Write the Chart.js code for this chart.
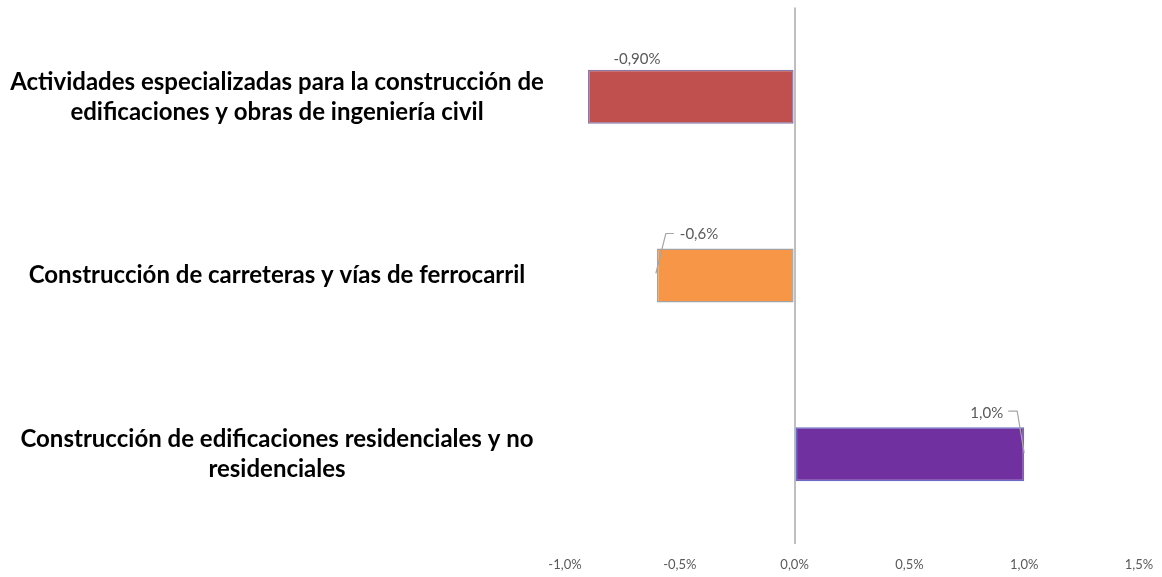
<!DOCTYPE html>
<html lang="es">
<head>
    <meta charset="UTF-8">
    <title>Variación por subsector</title>
    <script src="https://cdn.jsdelivr.net/npm/chart.js"></script>
    <style>
        html, body { margin: 0; padding: 0; background: #fff; }
        #wrap { width: 1162px; height: 577px; }
    </style>
</head>
<body>
    <div id="wrap"><canvas id="myChart"></canvas></div>

    <script>
        // categories, top to bottom
        const categories = [
            ['Actividades especializadas para la construcción de', 'edificaciones y obras de ingeniería civil'],
            'Construcción de carreteras y vías de ferrocarril',
            ['Construcción de edificaciones residenciales y no', 'residenciales']
        ];
        const values = [-0.9, -0.6, 1.0];          // percent
        const valueLabels = ['-0,90%', '-0,6%', '1,0%'];
        const barColors = ['#C0504D', '#F79646', '#7030A0'];
        const barBorders = ['#8a78a6', '#a3a3a3', '#6a6ac4'];
        const xTicks = [-1.0, -0.5, 0.0, 0.5, 1.0, 1.5];

        const fmtPct = v => v.toFixed(1).replace('.', ',') + '%';

        // value labels with small leader lines, positioned from the bar elements
        const valueLabelPlugin = {
            id: 'valueLabels',
            afterDatasetsDraw(chart) {
                const ctx = chart.ctx;
                const bars = chart.getDatasetMeta(0).data;
                ctx.save();
                ctx.font = '15px Lato';
                ctx.fillStyle = '#595959';
                ctx.strokeStyle = '#a6a6a6';
                ctx.lineWidth = 1.2;
                ctx.textBaseline = 'middle';
                bars.forEach((bar, i) => {
                    const top = bar.y - bar.height / 2;
                    if (i === 0) {
                        ctx.textAlign = 'center';
                        ctx.fillText(valueLabels[i], bar.x + 49, top - 11);
                    } else if (i === 1) {
                        ctx.textAlign = 'left';
                        ctx.fillText(valueLabels[i], bar.x + 23, top - 14);
                        ctx.beginPath();
                        ctx.moveTo(bar.x + 17, top - 15);
                        ctx.lineTo(bar.x + 9, top - 15);
                        ctx.lineTo(bar.x - 1, bar.y - 2);
                        ctx.stroke();
                    } else {
                        ctx.textAlign = 'right';
                        ctx.fillText(valueLabels[i], bar.x - 21, top - 14);
                        ctx.beginPath();
                        ctx.moveTo(bar.x - 16, top - 16);
                        ctx.lineTo(bar.x - 7, top - 16);
                        ctx.lineTo(bar.x, bar.y - 1);
                        ctx.stroke();
                    }
                });
                ctx.restore();
            }
        };

        const ctx = document.getElementById('myChart').getContext('2d');

        new Chart(ctx, {
            type: 'bar',
            data: {
                labels: categories,
                datasets: [{
                    data: values,
                    backgroundColor: barColors,
                    borderColor: barBorders,
                    borderWidth: 1.5,
                    borderSkipped: false,
                    categoryPercentage: 1.0,
                    barPercentage: 0.302
                }]
            },
            options: {
                indexAxis: 'y',
                responsive: true,
                maintainAspectRatio: false,
                animation: false,
                layout: { padding: { top: 7.5, right: 23, bottom: 0, left: 0 } },
                plugins: {
                    legend: { display: false },
                    tooltip: { enabled: false }
                },
                scales: {
                    x: {
                        min: -1.0,
                        max: 1.5,
                        afterBuildTicks: scale => { scale.ticks = xTicks.map(v => ({ value: v })); },
                        afterFit: scale => {
                            scale.height = 33.5;
                            scale.paddingRight = 0;
                        },
                        border: { display: false },
                        grid: {
                            drawTicks: false,
                            color: c => (c.tick && c.tick.value === 0) ? '#bfbfbf' : 'rgba(0,0,0,0)',
                            lineWidth: 2
                        },
                        ticks: {
                            padding: 14,
                            color: '#595959',
                            font: { family: 'Lato', size: 13 },
                            callback: v => fmtPct(v)
                        }
                    },
                    y: {
                        afterFit: scale => {
                            scale.width = 565;
                            // labels are centred on x = 277; no extra top/bottom room for them
                            const widest = scale._getLabelSizes().widest.width;
                            scale.options.ticks.padding = 565 - 277 - widest / 2;
                            scale.paddingTop = 0;
                            scale.paddingBottom = 0;
                        },
                        border: { display: false },
                        grid: { display: false, drawTicks: false },
                        ticks: {
                            crossAlign: 'center',
                            padding: 0,
                            color: '#000',
                            font: { family: 'Lato', size: 24, weight: 'bold', lineHeight: 1.25 }
                        }
                    }
                }
            },
            plugins: [valueLabelPlugin]
        });
    </script>
</body>
</html>
